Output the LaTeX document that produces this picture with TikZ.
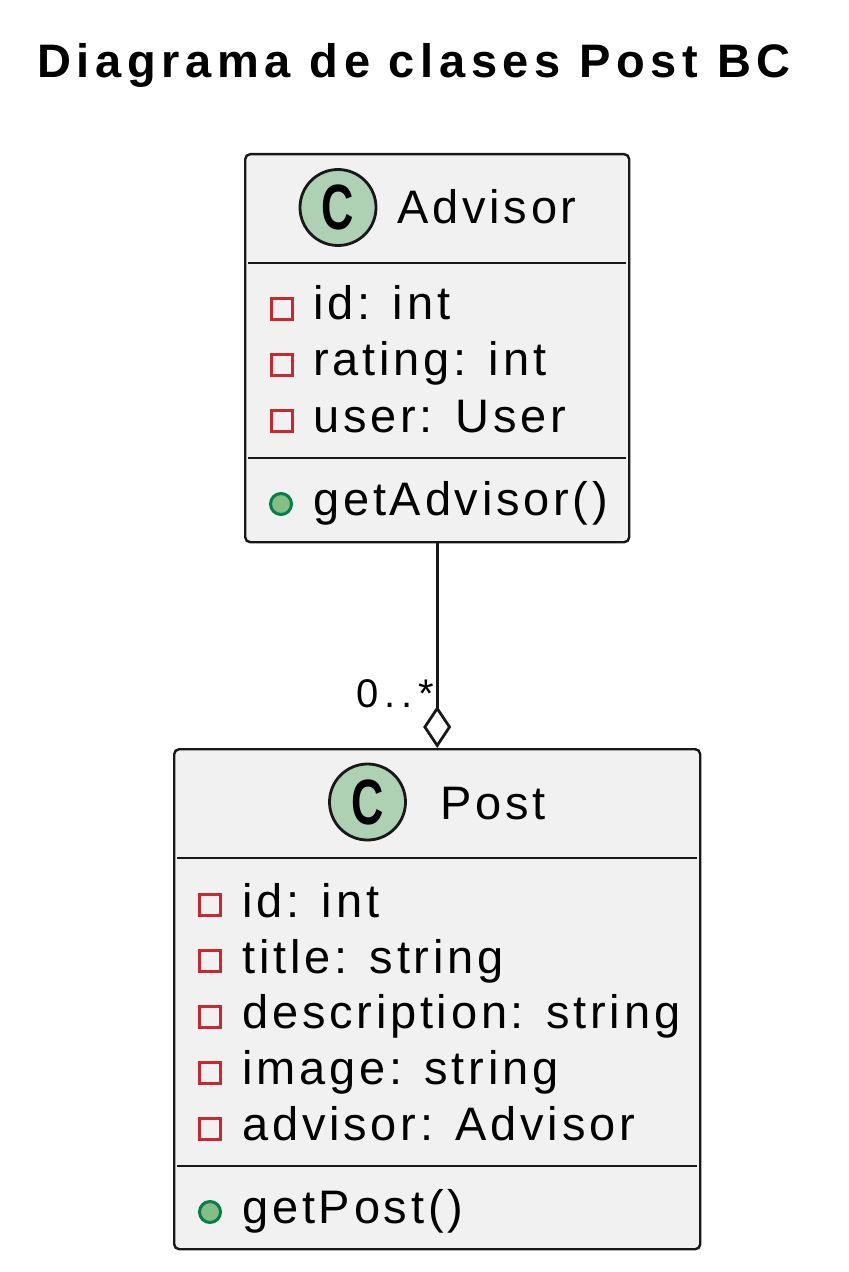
\documentclass[tikz,border=0pt]{standalone}
\usepackage{fontspec}
\usepackage{graphicx}
\setmainfont{Liberation Sans}[LetterSpace=8]
\newfontfamily\titlefont{Liberation Sans}[LetterSpace=12]
\newfontfamily\multfont{Liberation Sans}[LetterSpace=14]
\newfontfamily\iconfont{Liberation Sans}
\definecolor{umlbox}{HTML}{F1F1F1}
\definecolor{umlline}{HTML}{181818}
\definecolor{umlicon}{HTML}{ADD1B2}
\definecolor{umlpriv}{HTML}{C82930}
\definecolor{umlpubfill}{HTML}{84BE84}
\definecolor{umlpubline}{HTML}{038048}
\usetikzlibrary{arrows.meta,positioning}

\tikzset{
    classbox/.style={draw=umlline, fill=umlbox, line width=1.2pt, rounded corners=2.5pt, anchor=north west, inner sep=0pt},
    classicon/.style={circle, draw=umlline, fill=umlicon, line width=1.4pt, minimum size=38pt, inner sep=0pt, font=\iconfont\bfseries\fontsize{32}{32}\selectfont},
    classname/.style={anchor=base west, inner sep=0pt, font=\fontsize{23.5}{28}\selectfont},
    member/.style={anchor=base west, inner sep=0pt, font=\fontsize{23.5}{28}\selectfont},
    privmark/.style={rectangle, draw=umlpriv, fill=umlbox, line width=1.5pt, minimum size=10.5pt, inner sep=0pt},
    pubmark/.style={circle, draw=umlpubline, fill=umlpubfill, line width=1.5pt, minimum size=10.5pt, inner sep=0pt},
    sepline/.style={draw=umlline, line width=1pt, shorten <=2pt, shorten >=2pt},
    assoc/.style={draw=umlline, line width=1.4pt, -{Diamond[open, length=21pt, width=14pt, fill=white]}},
    mult/.style={anchor=base east, inner sep=0pt, font=\multfont\fontsize{20}{24}\selectfont}
}

\begin{document}
\begin{tikzpicture}[x=0.5pt, y=-0.5pt]
    \fill[white] (0,0) rectangle (849,1272);
    \useasboundingbox (0,0) rectangle (849,1272);

    % Title
    \node[anchor=base west, inner sep=0pt, font=\titlefont\bfseries\fontsize{23.5}{28}\selectfont] (title) at (37,78) {Diagrama de clases Post BC};

    % Advisor class
    \node[classbox, minimum width=192pt, minimum height=194pt] (advisor) at (244,153) {};
    \node[classicon] (advisorIcon) at (338,207.5) {\scalebox{0.7}[1]{C}};
    \node[classname] (advisorName) at (397,224) {Advisor};
    \draw[sepline] (advisor.west |- 0,263) -- (advisor.east |- 0,263);
    \node[privmark] (advisorIdMark) at (281.5,309) {};
    \node[member] (advisorId) at (313,320) {id: int};
    \node[privmark] (advisorRatingMark) at (281.5,365) {};
    \node[member] (advisorRating) at (313,376) {rating: int};
    \node[privmark] (advisorUserMark) at (281.5,421) {};
    \node[member] (advisorUser) at (313,432) {user: User};
    \draw[sepline] (advisor.west |- 0,458) -- (advisor.east |- 0,458);
    \node[pubmark] (advisorGetMark) at (281,504) {};
    \node[member] (advisorGet) at (313,515) {getAdvisor()};

    % Post class
    \node[classbox, minimum width=263pt, minimum height=250pt] (post) at (173,748) {};
    \node[classicon] (postIcon) at (367.5,802) {\scalebox{0.7}[1]{C}};
    \node[classname] (postName) at (440,819) {Post};
    \draw[sepline] (post.west |- 0,858) -- (post.east |- 0,858);
    \node[privmark] (postIdMark) at (210,905) {};
    \node[member] (postId) at (242,917) {id: int};
    \node[privmark] (postTitleMark) at (210,961) {};
    \node[member] (postTitle) at (242,973) {title: string};
    \node[privmark] (postDescMark) at (210,1017) {};
    \node[member] (postDesc) at (242,1028) {description: string};
    \node[privmark] (postImageMark) at (210,1073) {};
    \node[member] (postImage) at (242,1084) {image: string};
    \node[privmark] (postAdvisorMark) at (210,1129) {};
    \node[member] (postAdvisor) at (242,1140) {advisor: Advisor};
    \draw[sepline] (post.west |- 0,1166) -- (post.east |- 0,1166);
    \node[pubmark] (postGetMark) at (210,1212) {};
    \node[member] (postGet) at (242,1223) {getPost()};

    % Aggregation
    \draw[assoc] (advisor.south) -- (post.north);
    \node[mult] (postMult) at (434,707) {0..*};
\end{tikzpicture}
\end{document}
